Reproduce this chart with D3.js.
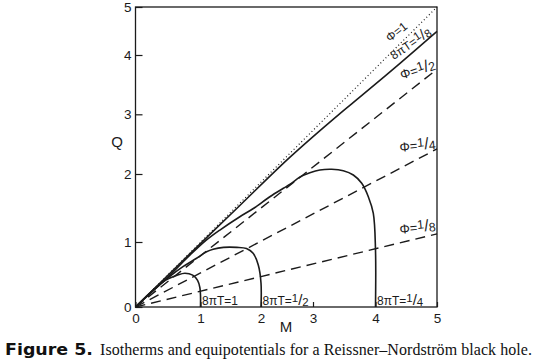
<!DOCTYPE html>
<html><head><meta charset="utf-8">
<script src="https://cdn.jsdelivr.net/npm/d3@7"></script>
<style>body{margin:0;background:#fff}</style>
</head><body>
<svg id="c" width="540" height="361"></svg>
<script>
// ---- data ----
const tickValues = [0, 1, 2, 3, 4, 5];
const xTickLabels = ["0", "1", "2", "3", "4", "5"];
const yTickLabels = ["0", "1", "2", "3", "4", "5"];

// equipotentials (straight lines from the origin), Q read at M = 5
const phiNames = ["1", "1/2", "1/4", "1/8"];
const phiQatM5 = [5, 3.76, 2.42, 1.12];

// isotherms, [M, Q] points
const isoNames = ["1", "1/2", "1/4", "1/8"];
const isoT1 = [[0,0],[0.22,0.215],[0.42,0.385],[0.53,0.445],[0.64,0.49],[0.76,0.52],[0.88,0.49],[0.955,0.41],[0.99,0.3],[1,0.18],[1,0]];
const isoT2 = [[0,0],[0.25,0.235],[0.5,0.45],[0.73,0.62],[0.94,0.75],[1.1,0.85],[1.21,0.89],[1.38,0.918],[1.6,0.918],[1.76,0.9],[1.87,0.826],[1.955,0.646],[2,0.37],[2,0]];
const isoT4 = [[0,0],[0.45,0.415],[0.84,0.8],[1.1,1.03],[1.32,1.176],[1.65,1.372],[1.88,1.496],[2.17,1.666],[2.43,1.79],[2.56,1.85],[2.75,1.955],[2.94,2.02],[3.11,2.067],[3.3,2.079],[3.485,2.055],[3.645,1.985],[3.78,1.863],[3.885,1.666],[3.965,1.42],[4,0.877],[4,0]];
const isoT8 = [[0,0],[0.786,0.769],[1.65,1.537],[2.558,2.283],[3.435,3.017],[3.758,3.297],[4.403,3.864],[5,4.49]];
const isotherms = [isoT1, isoT2, isoT4, isoT8];

const captionBold = "Figure 5.";
const captionText = "Isotherms and equipotentials for a Reissner\u2013Nordstr\u00f6m black hole.";

// ---- drawing ----
const svg = d3.select("#c");
const ink = "#1b1b1b";
const sans = "'Liberation Sans', Arial, sans-serif";

// scales follow the drawn tick positions of the (hand drafted) original
const x = d3.scaleLinear().domain([0,1,2,3,4,5]).range([135.5, 200.5, 261, 313, 375.5, 437]);
const y = d3.scaleLinear().domain([0,1,2,3,4,5]).range([307, 242, 174, 114.3, 55, 7]);

// frame
svg.append("rect")
  .attr("x", x(0)).attr("y", y(5))
  .attr("width", x(5) - x(0)).attr("height", y(0) - y(5))
  .attr("fill", "none").attr("stroke", ink).attr("stroke-width", 1.3);

// axes
const xAxis = d3.axisBottom(x).tickValues(tickValues).tickFormat((d, i) => xTickLabels[i])
  .tickSizeInner(-5).tickSizeOuter(0).tickPadding(6);
const yAxis = d3.axisLeft(y).tickValues(tickValues).tickFormat((d, i) => yTickLabels[i])
  .tickSizeInner(-7).tickSizeOuter(0).tickPadding(4);

const gx = svg.append("g").attr("transform", `translate(0,${y(0)})`).call(xAxis);
const gy = svg.append("g").attr("transform", `translate(${x(0)},0)`).call(yAxis);
[gx, gy].forEach(g => {
  g.select(".domain").remove();
  g.selectAll("line").attr("stroke", ink).attr("stroke-width", 1.2);
  g.selectAll("text").attr("font-family", sans).attr("font-size", 13.5).attr("fill", ink);
});

svg.append("text").attr("x", 117).attr("y", 147).attr("text-anchor", "middle")
  .attr("font-family", sans).attr("font-size", 15).attr("fill", ink).text("Q");
svg.append("text").attr("x", 286).attr("y", 332).attr("text-anchor", "middle")
  .attr("font-family", sans).attr("font-size", 15).attr("fill", ink).text("M");

// equipotential lines
const lineGen = d3.line().x(d => x(d[0])).y(d => y(d[1]));
phiNames.forEach((name, i) => {
  svg.append("path")
    .attr("d", lineGen([[0, 0], [5, phiQatM5[i]]]))
    .attr("fill", "none").attr("stroke", ink)
    .attr("stroke-width", i === 0 ? 1.2 : 1.4)
    .attr("stroke-dasharray", i === 0 ? "1,2.6" : "10,6");
});

// isotherms
const curveGen = d3.line().x(d => x(d[0])).y(d => y(d[1])).curve(d3.curveCatmullRom.alpha(0.5));
isotherms.forEach(pts => {
  svg.append("path").attr("d", curveGen(pts))
    .attr("fill", "none").attr("stroke", ink).attr("stroke-width", 1.6);
});

// fraction-style label helper
function label(cx, cy, angle, prefix, frac, size, anchor) {
  const t = svg.append("text")
    .attr("transform", `translate(${cx},${cy}) rotate(${angle})`)
    .attr("text-anchor", anchor || "middle")
    .attr("font-family", sans).attr("font-size", size).attr("fill", ink);
  const parts = frac.split("/");
  if (parts.length === 1) {
    t.text(prefix + parts[0]);
  } else {
    t.append("tspan").text(prefix);
    t.append("tspan").attr("dy", -3).attr("font-size", size * 0.95).text(parts[0]);
    t.append("tspan").attr("dy", 3).attr("font-size", size * 1.25).text("/");
    t.append("tspan").attr("dy", 1).attr("font-size", size * 0.95).text(parts[1]);
  }
  return t;
}

// equipotential labels
label(399, 35, -38, "\u03a6=", phiNames[0], 12);
label(419, 74, -18, "\u03a6=", phiNames[1], 13);
label(418, 150, -6, "\u03a6=", phiNames[2], 13);
label(418, 232, -6, "\u03a6=", phiNames[3], 13);

// isotherm labels
label(x(1) + 1.5, 305, 0, "8\u03c0T=", isoNames[0], 12, "start");
label(x(2) + 1.5, 305, 0, "8\u03c0T=", isoNames[1], 12, "start");
label(x(4) + 1.5, 305, 0, "8\u03c0T=", isoNames[2], 12, "start");
label(413, 47, -34, "8\u03c0T=", isoNames[3], 12);

// caption
svg.append("text").attr("x", 5).attr("y", 355)
  .attr("font-family", "'DejaVu Sans', sans-serif").attr("font-weight", "bold")
  .attr("font-size", 16.5).attr("fill", "#111")
  .attr("textLength", 88).attr("lengthAdjust", "spacingAndGlyphs")
  .text(captionBold);
svg.append("text").attr("x", 100).attr("y", 355)
  .attr("font-family", "'Liberation Serif', 'Times New Roman', serif")
  .attr("font-size", 16).attr("fill", "#111")
  .attr("textLength", 432).attr("lengthAdjust", "spacing")
  .text(captionText);
</script>
</body></html>
